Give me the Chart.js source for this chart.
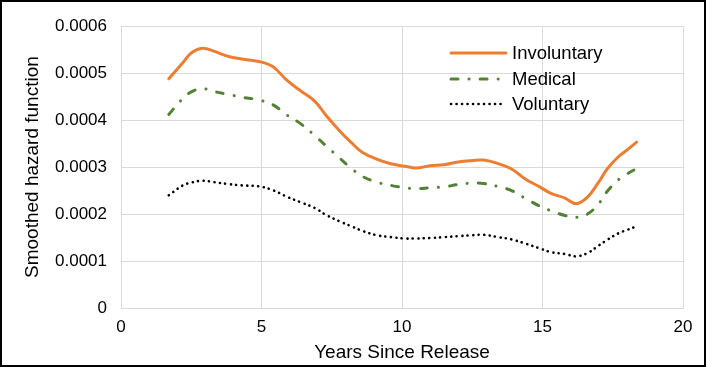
<!DOCTYPE html>
<html>
<head>
<meta charset="utf-8">
<script src="https://cdn.jsdelivr.net/npm/chart.js@4"></script>
<style>
    html, body { margin: 0; padding: 0; background: #fff; }
    .chart-wrapper {
        width: 706px;
        height: 367px;
        box-sizing: border-box;
        border: 2px solid #000;
        background: #fff;
    }
</style>
</head>
<body>
<div class="chart-wrapper"><canvas id="hazardChart" width="702" height="363"></canvas></div>
<script>
/* ==========================================================================
   資料
   ========================================================================== */

const years = [1.7, 2.2, 2.5, 2.9, 3.3, 3.8, 4.3, 4.9, 5.4, 5.9, 6.4, 6.9, 7.3, 7.8, 8.2, 8.6, 9.1, 9.6, 10.1, 10.5,
    11.0, 11.5, 12.0, 12.5, 12.9, 13.4, 13.9, 14.4, 14.9, 15.3, 15.8, 16.2, 16.6, 17.0, 17.3, 17.7, 18.0, 18.35];

const involuntary = [0.000488, 0.000522, 0.000543, 0.000553, 0.000547, 0.000536, 0.000530, 0.000525, 0.000514, 0.000485,
    0.000462, 0.000440, 0.000410, 0.000376, 0.000352, 0.000331, 0.000317, 0.000307, 0.000302, 0.000298,
    0.000303, 0.000305, 0.000311, 0.000314, 0.000315, 0.000308, 0.000296, 0.000274, 0.000258, 0.000244,
    0.000234, 0.000222, 0.000236, 0.000268, 0.000296, 0.000322, 0.000336, 0.000353];

const medical = [0.000412, 0.000446, 0.000460, 0.000467, 0.000461, 0.000455, 0.000449, 0.000443, 0.000433, 0.000411,
    0.000392, 0.000367, 0.000345, 0.000318, 0.000297, 0.000280, 0.000268, 0.000261, 0.000256, 0.000254,
    0.000256, 0.000258, 0.000263, 0.000266, 0.000265, 0.000259, 0.000250, 0.000233, 0.000217, 0.000207,
    0.000197, 0.000193, 0.000200, 0.000222, 0.000248, 0.000273, 0.000285, 0.000297];

const voluntary = [0.000240, 0.000261, 0.000267, 0.000271, 0.000268, 0.000264, 0.000261, 0.000259, 0.000251, 0.000237,
    0.000225, 0.000213, 0.000198, 0.000184, 0.000174, 0.000164, 0.000155, 0.000151, 0.000148, 0.000148,
    0.000149, 0.000151, 0.000153, 0.000155, 0.000156, 0.000151, 0.000146, 0.000137, 0.000127, 0.000119,
    0.000115, 0.000110, 0.000117, 0.000133, 0.000145, 0.000159, 0.000166, 0.000174];

const seriesNames = ['Involuntary', 'Medical', 'Voluntary'];
const xTicks = [0, 5, 10, 15, 20];
const yTicks = [0, 0.0001, 0.0002, 0.0003, 0.0004, 0.0005, 0.0006];

/* ==========================================================================
   樣式
   ========================================================================== */

const FONT = "'Liberation Sans', Arial, sans-serif";
const GRID = '#d9d9d9';

const seriesStyles = [
    { color: '#ED7D31', width: 3, dash: [], cap: 'round' },
    { color: '#548235', width: 3, dash: [7, 11, 0.1, 11], cap: 'round' },
    { color: '#000000', width: 2.6, dash: [0.1, 5.4], cap: 'round' }
];

function toPoints(values) {
    return values.map((v, i) => ({ x: years[i], y: v }));
}

// 圖內圖例 (Excel 風格)
const insideLegend = {
    id: 'insideLegend',
    afterDraw(chart) {
        const ctx = chart.ctx;
        const x0 = 449, x1 = 504, tx = 510;
        const rows = [51, 77, 102];
        ctx.save();
        chart.data.datasets.forEach((ds, i) => {
            const st = seriesStyles[i];
            ctx.beginPath();
            ctx.strokeStyle = st.color;
            ctx.lineWidth = st.width;
            ctx.lineCap = st.cap;
            ctx.setLineDash(st.dash);
            ctx.moveTo(x0, rows[i]);
            ctx.lineTo(x1, rows[i]);
            ctx.stroke();
            ctx.setLineDash([]);
            ctx.fillStyle = '#000';
            ctx.font = '18.5px ' + FONT;
            ctx.textBaseline = 'middle';
            ctx.textAlign = 'left';
            ctx.fillText(ds.label, tx, rows[i] + 1);
        });
        ctx.restore();
    }
};

const datasets = [involuntary, medical, voluntary].map((vals, i) => ({
    label: seriesNames[i],
    data: toPoints(vals),
    borderColor: seriesStyles[i].color,
    backgroundColor: seriesStyles[i].color,
    borderWidth: seriesStyles[i].width,
    borderDash: seriesStyles[i].dash,
    borderCapStyle: seriesStyles[i].cap,
    pointRadius: 0,
    tension: 0.4,
    fill: false
}));

new Chart(document.getElementById('hazardChart').getContext('2d'), {
    type: 'line',
    data: { datasets: datasets },
    options: {
        responsive: false,
        animation: false,
        devicePixelRatio: 1,
        layout: { padding: { top: 23, right: 21, left: 0, bottom: 0 } },
        plugins: {
            legend: { display: false },
            tooltip: { enabled: false }
        },
        scales: {
            x: {
                type: 'linear',
                min: 0,
                max: 20,
                afterBuildTicks: scale => { scale.ticks = xTicks.map(v => ({ value: v })); },
                afterFit: scale => { scale.height = 57; },
                grid: { color: GRID, drawTicks: false, lineWidth: 1 },
                border: { color: GRID },
                ticks: {
                    color: '#000',
                    padding: 9,
                    font: { family: FONT, size: 17 },
                    maxRotation: 0
                },
                title: {
                    display: true,
                    text: 'Years Since Release',
                    color: '#000',
                    font: { family: FONT, size: 19 },
                    padding: { top: 0, bottom: 1 }
                }
            },
            y: {
                min: 0,
                max: 0.0006,
                afterBuildTicks: scale => { scale.ticks = yTicks.map(v => ({ value: v })); },
                afterFit: scale => { scale.width = 119; },
                grid: { color: GRID, drawTicks: false, lineWidth: 1 },
                border: { color: GRID },
                ticks: {
                    color: '#000',
                    padding: 14,
                    font: { family: FONT, size: 17 },
                    callback: v => (v === 0 ? '0' : v.toFixed(4))
                },
                title: {
                    display: true,
                    text: 'Smoothed hazard function',
                    color: '#000',
                    font: { family: FONT, size: 19 },
                    padding: { top: 19, bottom: 0 }
                }
            }
        }
    },
    plugins: [insideLegend]
});
</script>
</body>
</html>
